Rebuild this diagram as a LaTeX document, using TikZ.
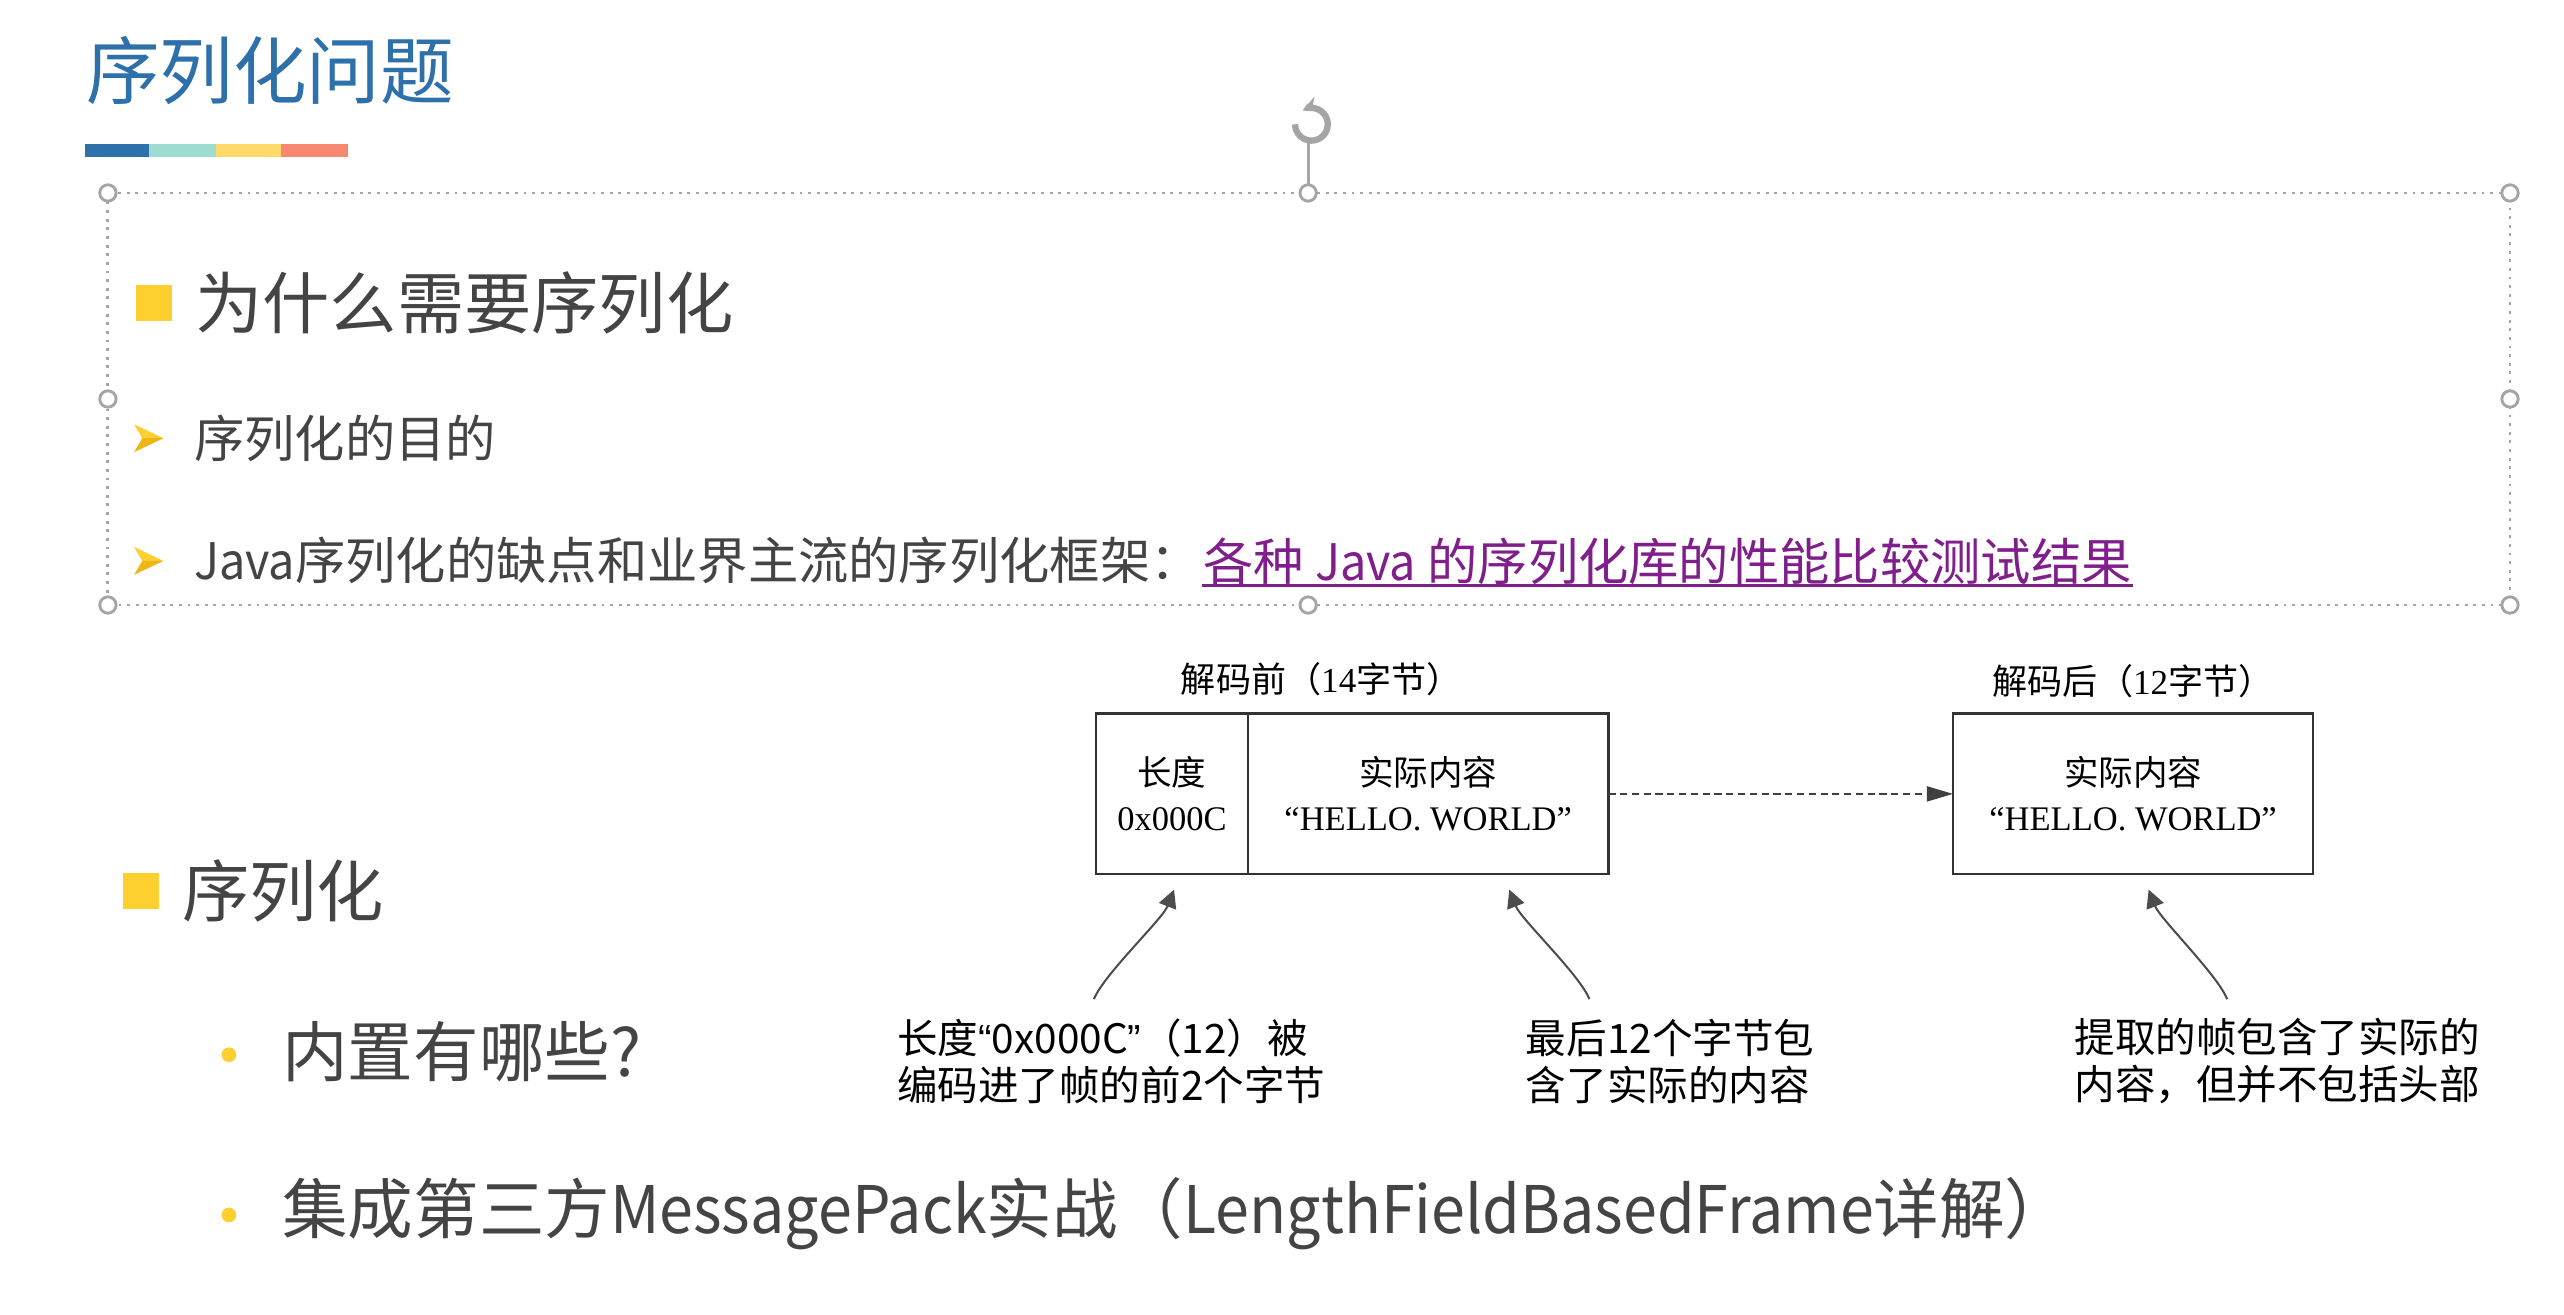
\documentclass[tikz,border=0pt]{standalone}
\usepackage{fontspec}
\setmainfont{Liberation Serif}
\newfontfamily\cjk{Noto Sans CJK SC}
\newfontfamily\cjkn[FakeStretch=0.93]{Noto Sans CJK SC}
\newfontfamily\quotefont{Liberation Sans}
\usepackage{xcolor}
\usetikzlibrary{positioning, arrows.meta}

\definecolor{titleblue}{RGB}{46,112,170}
\definecolor{barteal}{RGB}{158,220,210}
\definecolor{baryellow}{RGB}{255,218,106}
\definecolor{barsalmon}{RGB}{247,136,112}
\definecolor{bulletyellow}{RGB}{253,208,48}
\definecolor{bulletdark}{RGB}{238,182,20}
\definecolor{bodytext}{RGB}{68,68,68}
\definecolor{linkpurple}{RGB}{128,30,140}
\definecolor{framegray}{RGB}{165,165,165}

\tikzset{
  txt/.style={inner sep=0pt, anchor=west, text=bodytext},
  sqbullet/.style={fill=bulletyellow, inner sep=0pt, minimum size=2.2mm},
  cell/.style={draw=black!80, line width=0.45pt, inner sep=0pt, outer sep=0pt,
    minimum height=0.98cm, align=center, font=\fontsize{6}{7.8}\selectfont},
  caption/.style={inner sep=0pt, font=\fontsize{6.1}{7}\selectfont},
  note/.style={inner sep=0pt, anchor=west, align=left, font=\cjk\fontsize{7.05}{8.1}\selectfont},
  pointer/.style={draw=black!70, line width=0.35pt, -{Triangle[length=1.1mm, width=1.1mm]}},
  flow/.style={draw=black!75, line width=0.45pt, dash pattern=on 1.25pt off 0.8pt,
    -{Triangle[length=1.6mm, width=0.9mm]}},
  handle/.style={draw=framegray, fill=white, line width=0.5pt},
  arrowbullet/.pic={
    \fill[bulletyellow] (-9,-8.5) -- (9,0) -- (-4,0) -- cycle;
    \fill[bulletdark] (-9,8.5) -- (9,0) -- (-4,0) -- cycle;
  },
}

\begin{document}
\begin{tikzpicture}[x=0.01cm, y=-0.01cm]
    \useasboundingbox[fill=white] (0,0) rectangle (1568,803.6);

    % Title
    \node (title) [txt, text=titleblue, font=\cjk\fontsize{12.8}{15}\selectfont] at (52,43) {序列化问题};
    \fill[titleblue] (52,88) rectangle (91,96);
    \fill[barteal] (91,88) rectangle (132,96);
    \fill[baryellow] (132,88) rectangle (172,96);
    \fill[barsalmon] (172,88) rectangle (213,96);

    % Selected text frame
    \draw[framegray, densely dotted, line width=0.5pt] (66,118) rectangle (1535,370);
    \draw[framegray, line width=0.5pt] (800,113) -- (800,87);
    \draw[framegray, line width=1.1pt, -{Stealth[length=1mm]}] (792,76) arc[start angle=180, end angle=-120, radius=10];
    \foreach \hx/\hy in {66/118, 800/118, 1535/118, 66/244, 1535/244, 66/370, 800/370, 1535/370}
        \draw[handle] (\hx,\hy) circle[radius=5];

    % Why serialize
    \node (sq1) [sqbullet] at (94,185) {};
    \node (why) [txt, right=1.3mm of sq1, font=\cjk\fontsize{11.7}{14}\selectfont] {为什么需要序列化};
    \pic at (91,268) {arrowbullet};
    \node (goal) [txt, font=\cjk\fontsize{8.75}{10}\selectfont] at (118,268) {序列化的目的};
    \pic at (91,343) {arrowbullet};
    \node (java) [txt, font=\cjk\fontsize{8.75}{10}\selectfont] at (118,343) {{\cjkn Java}序列化的缺点和业界主流的序列化框架：};
    \node (link) [txt, right=0pt of java, text=linkpurple, font=\cjk\fontsize{8.75}{10}\selectfont] {各种 {\cjkn Java} 的序列化库的性能比较测试结果};
    \draw[linkpurple, line width=0.55pt] ([yshift=-1pt]link.base west) -- ([yshift=-1pt]link.base east);

    % Serialization
    \node (sq2) [sqbullet] at (86,545) {};
    \node (ser) [txt, right=1.3mm of sq2, font=\cjk\fontsize{11.7}{14}\selectfont] {序列化};
    \fill[bulletyellow] (140,645) circle[radius=4.5];
    \node (builtin) [txt, font=\cjk\fontsize{11.4}{14}\selectfont] at (172,643) {内置有哪些?};
    \fill[bulletyellow] (140,743) circle[radius=4.5];
    \node (msgpack) [txt, font=\cjk\fontsize{11.4}{14}\selectfont] at (172,742) {集成第三方{\cjkn MessagePack}实战（{\cjkn LengthFieldBasedFrame}详解）};

    % Frame before decoding
    \node (len) [cell, minimum width=0.93cm] at (716.7,485.5) {{\cjk 长度}\\0x000C};
    \node (body) [cell, minimum width=2.202cm, right=0pt of len] {{\cjk 实际内容}\\“HELLO. WORLD”};
    \node (pre) [caption] at (808,415.5) {{\cjk 解码前（}14{\cjk 字节）}};

    % Frame after decoding
    \node (out) [cell, minimum width=2.2cm] at (1304.5,485.5) {{\cjk 实际内容}\\“HELLO. WORLD”};
    \node (post) [caption, above=0.9mm of out] {{\cjk 解码后（}12{\cjk 字节）}};

    \draw[flow] (body) -- (out);

    % Notes
    \node (n1) [note] at (548,649) {长度{\quotefont “}0x000C{\quotefont ”}（12）被\\编码进了帧的前2个字节};
    \node (n2) [note] at (932.5,649) {最后12个字节包\\含了实际的内容};
    \node (n3) [note] at (1268,649) {提取的帧包含了实际的\\内容，但并不包括头部};

    \coordinate (s1) at (669,611);
    \coordinate (t1) at (718,544);
    \coordinate (s2) at (972,611);
    \coordinate (t2) at (923,544);
    \coordinate (s3) at (1362,611);
    \coordinate (t3) at (1314,544);
    \draw[pointer] (s1) .. controls (675,596) and (711,562) .. (t1);
    \draw[pointer] (s2) .. controls (966,596) and (930,562) .. (t2);
    \draw[pointer] (s3) .. controls (1356,596) and (1321,562) .. (t3);
\end{tikzpicture}
\end{document}
